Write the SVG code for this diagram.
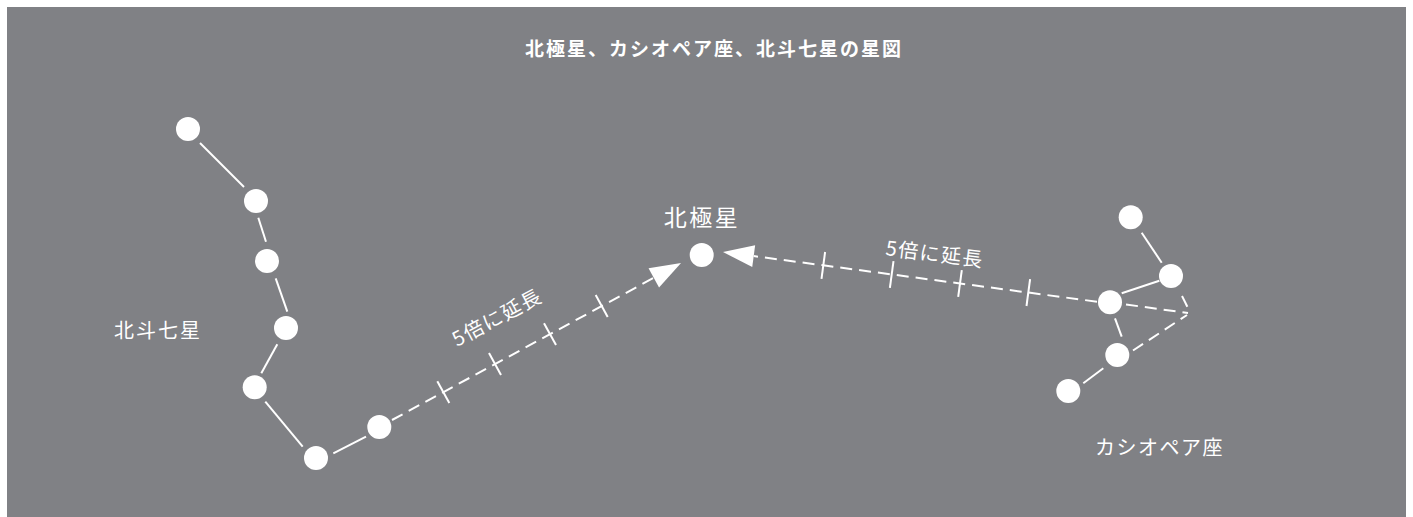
<svg xmlns="http://www.w3.org/2000/svg" width="1413" height="517" viewBox="0 0 1413 517">
<style>
.star{fill:#fff}
.ln{stroke:#fff;stroke-width:2;fill:none}
.dash{stroke:#fff;stroke-width:2;fill:none;stroke-dasharray:12 7}
.lbl{font-family:"Noto Sans CJK JP","Noto Sans",sans-serif;fill:#fff;font-size:20px}
.title{font-family:"Noto Sans CJK JP","Noto Sans",sans-serif;fill:#fff;font-size:19px;font-weight:bold;letter-spacing:2px}
.ext{font-family:"Noto Sans CJK JP","Noto Sans",sans-serif;fill:#fff;font-size:20px;letter-spacing:1.5px}
</style>
<defs>
<marker id="ah" markerUnits="userSpaceOnUse" markerWidth="32" markerHeight="24" viewBox="0 0 32 24" refX="0" refY="12" orient="auto" overflow="visible">
<path d="M0,1 L31,12 L0,23 Z" fill="#fff"/>
</marker>
</defs>
<rect x="7" y="7" width="1399" height="510" fill="#808185"/>
<text class="title" x="714" y="56" text-anchor="middle">北極星、カシオペア座、北斗七星の星図</text>

<g id="connectors">
<!-- Big Dipper -->
<line class="ln" x1="200" y1="143" x2="244" y2="187"/>
<line class="ln" x1="258.3" y1="217.7" x2="266" y2="241.7"/>
<line class="ln" x1="275.7" y1="278.3" x2="287.3" y2="311.7"/>
<line class="ln" x1="277.3" y1="344.3" x2="261.3" y2="373.3"/>
<line class="ln" x1="265.3" y1="401.7" x2="302.7" y2="446.7"/>
<line class="ln" x1="333.3" y1="453.3" x2="366" y2="436.7"/>
<!-- Cassiopeia -->
<line class="ln" x1="1141.7" y1="232.7" x2="1161.7" y2="262.7"/>
<line class="ln" x1="1159.3" y1="280.7" x2="1121.7" y2="293.3"/>
<line class="ln" x1="1115" y1="318.3" x2="1121.7" y2="336.7"/>
<line class="ln" x1="1103.3" y1="368.3" x2="1083.3" y2="383.3"/>
<line class="dash" x1="1126" y1="304.5" x2="1188" y2="313"/>
<line class="dash" x1="1133" y1="350.5" x2="1187" y2="315"/>
<line class="dash" x1="1182" y1="296" x2="1190" y2="312"/>
<!-- extension lines -->
<line class="dash" x1="392" y1="420" x2="653.8" y2="277.8" marker-end="url(#ah)"/>
<line class="ln" x1="437.3" y1="381.2" x2="449.3" y2="403.1"/>
<line class="ln" x1="489" y1="353.1" x2="501" y2="375"/>
<line class="ln" x1="544" y1="323.2" x2="556" y2="345.1"/>
<line class="ln" x1="595.7" y1="295.1" x2="607.7" y2="317.1"/>
<line class="dash" x1="1097" y1="301.7" x2="753.7" y2="256.1" marker-end="url(#ah)"/>
<line class="ln" x1="1030.1" y1="279.2" x2="1026.5" y2="306"/>
<line class="ln" x1="961.8" y1="270.1" x2="958.2" y2="296.9"/>
<line class="ln" x1="893.5" y1="261.1" x2="889.9" y2="287.9"/>
<line class="ln" x1="825.1" y1="252" x2="821.5" y2="278.8"/>
</g>

<g id="bigdipper">
<circle class="star" id="bd1" cx="188" cy="129" r="12"/>
<circle class="star" id="bd2" cx="256" cy="201" r="12"/>
<circle class="star" id="bd3" cx="267" cy="261" r="12"/>
<circle class="star" id="bd4" cx="286" cy="328" r="12"/>
<circle class="star" id="bd5" cx="254.7" cy="387.3" r="12"/>
<circle class="star" id="bd6" cx="316" cy="458" r="12"/>
<circle class="star" id="bd7" cx="379.3" cy="427" r="12"/>
<text class="lbl" x="114" y="338" letter-spacing="2">北斗七星</text>
</g>

<g id="polaris">
<circle class="star" cx="701.7" cy="255" r="12"/>
<text class="lbl" x="702" y="226" text-anchor="middle" style="font-size:23px;letter-spacing:2.5px">北極星</text>
</g>

<g id="cassiopeia">
<circle class="star" id="cas1" cx="1130.7" cy="217.3" r="12"/>
<circle class="star" id="cas2" cx="1171" cy="276" r="12"/>
<circle class="star" id="cas3" cx="1110" cy="302.3" r="12"/>
<circle class="star" id="cas4" cx="1117.3" cy="355" r="12"/>
<circle class="star" id="cas5" cx="1068.3" cy="391" r="12"/>
<text class="lbl" x="1095" y="454.5" letter-spacing="1.5">カシオペア座</text>
</g>

<g id="labels">
<text class="ext" transform="translate(457,347) rotate(-28)">5倍に延長</text>
<text class="ext" transform="translate(885,255) rotate(7)">5倍に延長</text>
</g>
</svg>
